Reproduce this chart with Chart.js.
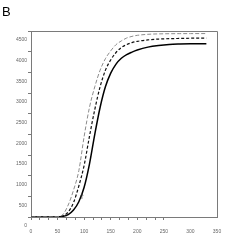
<!DOCTYPE html>
<html>
<head>
<meta charset="utf-8">
<script src="https://cdn.jsdelivr.net/npm/chart.js@4/dist/chart.umd.min.js"></script>
<style>
  html, body { margin:0; padding:0; background:#fff; }
  #wrap { position:relative; width:249px; height:249px; }
  #panel { position:absolute; left:2px; top:4px; font-family:"Liberation Sans", Arial, sans-serif; font-size:13px; color:#000; }
  canvas { position:absolute; left:0; top:0; }
</style>
</head>
<body>
<div id="wrap">
  <canvas id="c" width="249" height="249"></canvas>
  <div id="panel">B</div>
</div>
<script>
// ---- data ----
const xValues = [0,20,40,50,60,70,80,90,100,110,120,130,140,150,160,170,180,190,200,220,240,260,280,300,330];
const greyCurve   = [0,0,0,10,60,290,650,1120,1950,2650,3150,3550,3830,4020,4170,4260,4330,4370,4395,4420,4430,4434,4436,4437,4438];
const dashedCurve = [0,0,0,5,30,120,350,750,1250,1950,2600,3150,3550,3800,3980,4100,4170,4220,4250,4285,4305,4315,4320,4325,4328];
const solidCurve  = [0,0,0,3,15,60,170,370,720,1280,2000,2650,3150,3480,3700,3840,3930,3990,4040,4110,4150,4175,4185,4190,4192];
const xTickStep = 50/3;          // minor step between x tick marks
const xTickMarksUpTo = 250;      // tick marks drawn only up to here
const yTicks = [0,500,1000,1500,2000,2500,3000,3500,4000,4500];
const arrowNote = { x: 96, y: 470, text: '\u2191' };

const toPts = ys => xValues.map((x,i) => ({x, y: ys[i]}));
const axisColor = '#7a7a7a';
const labelColor = '#666';
const tickFont = { family: '"Liberation Sans", Arial, sans-serif', size: 5 };

const framePlugin = {
  id: 'frame',
  afterDraw(chart) {
    const {ctx, chartArea: a, scales} = chart;
    ctx.save();
    ctx.strokeStyle = axisColor;
    ctx.lineWidth = 1;
    ctx.beginPath();
    ctx.moveTo(a.left, a.top + 0.5); ctx.lineTo(a.right + 0.5, a.top + 0.5);
    ctx.lineTo(a.right + 0.5, a.bottom);
    ctx.stroke();
    ctx.fillStyle = '#333';
    ctx.font = '7px "DejaVu Sans", sans-serif';
    ctx.textAlign = 'center';
    ctx.textBaseline = 'middle';
    ctx.fillText(arrowNote.text, scales.x.getPixelForValue(arrowNote.x), scales.y.getPixelForValue(arrowNote.y));
    ctx.restore();
  }
};

new Chart(document.getElementById('c'), {
  type: 'line',
  data: {
    datasets: [
      { data: toPts(greyCurve), borderColor: '#8c8c8c', borderWidth: 1, borderDash: [4,2] },
      { data: toPts(dashedCurve), borderColor: '#111', borderWidth: 1.2, borderDash: [3,2] },
      { data: toPts(solidCurve), borderColor: '#000', borderWidth: 1.5 }
    ]
  },
  options: {
    responsive: false,
    animation: false,
    devicePixelRatio: 1,
    layout: { padding: { left: 0, top: 31, right: 32, bottom: 0 } },
    elements: { point: { radius: 0 }, line: { cubicInterpolationMode: 'monotone', fill: false } },
    plugins: { legend: { display: false }, tooltip: { enabled: false }, title: { display: false } },
    scales: {
      x: {
        type: 'linear', min: 0, max: 350,
        afterFit: s => { s.height = 32; },
        afterBuildTicks: s => {
          const t = [];
          for (let k = 0; k * xTickStep <= 350 + 1e-6; k++) t.push({ value: k * xTickStep });
          s.ticks = t;
        },
        border: { color: axisColor, width: 1 },
        grid: {
          drawOnChartArea: false, drawTicks: true, tickLength: 3,
          tickColor: ctx => (ctx.tick && ctx.tick.value <= xTickMarksUpTo + 1) ? axisColor : 'rgba(0,0,0,0)'
        },
        ticks: {
          autoSkip: false, maxRotation: 0, padding: 9, color: labelColor, font: tickFont,
          callback: (v, i) => (i % 3 === 0) ? String(Math.round(v)) : ''
        }
      },
      y: {
        type: 'linear', min: 0, max: 4500,
        afterFit: s => { s.width = 31; },
        afterBuildTicks: s => { s.ticks = yTicks.map(v => ({ value: v })); },
        border: { color: axisColor, width: 1 },
        grid: { drawOnChartArea: false, drawTicks: true, tickLength: 3, tickColor: axisColor },
        ticks: { padding: 1, labelOffset: 9, color: labelColor, font: tickFont, callback: v => String(v) }
      }
    }
  },
  plugins: [framePlugin]
});
</script>
</body>
</html>
